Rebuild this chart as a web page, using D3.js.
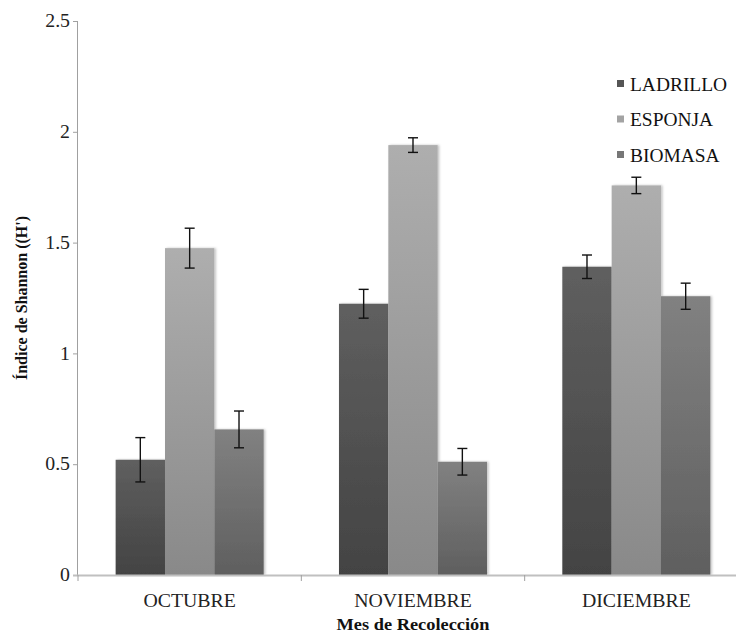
<!DOCTYPE html>
<html><head><meta charset="utf-8">
<script src="https://cdn.jsdelivr.net/npm/d3@7"></script>
<style>body{margin:0;background:#fff;overflow:hidden}svg{display:block}
text{font-family:"Liberation Serif","Times New Roman",Tinos,serif}</style>
</head><body>
<script>
const categories = ["OCTUBRE", "NOVIEMBRE", "DICIEMBRE"];
const seriesNames = ["LADRILLO", "ESPONJA", "BIOMASA"];
const ladrillo = [0.52, 1.224, 1.391];
const esponja = [1.475, 1.940, 1.758];
const biomasa = [0.657, 0.511, 1.258];
const ladrilloErr = [0.10, 0.065, 0.053];
const esponjaErr = [0.09, 0.033, 0.037];
const biomasaErr = [0.083, 0.06, 0.059];
const yTicks = [0, 0.5, 1, 1.5, 2, 2.5];
const yTickLabels = ["0", "0.5", "1", "1.5", "2", "2.5"];
const seriesValues = [ladrillo, esponja, biomasa];
const seriesErrors = [ladrilloErr, esponjaErr, biomasaErr];
const gradTop = ["#5f5f5f", "#aeaeae", "#818181"];
const gradBot = ["#434343", "#898989", "#5f5f5f"];
const legendColors = ["#555555", "#a3a3a3", "#777777"];

const W = 736, H = 633;
const svg = d3.select("body").append("svg").attr("width", W).attr("height", H);
const defs = svg.append("defs");
seriesNames.forEach((s, i) => {
  const g = defs.append("linearGradient").attr("id", "g" + i).attr("x1", 0).attr("y1", 0).attr("x2", 0).attr("y2", 1);
  g.append("stop").attr("offset", "0%").attr("stop-color", gradTop[i]);
  g.append("stop").attr("offset", "100%").attr("stop-color", gradBot[i]);
});
const f = defs.append("filter").attr("id", "sh").attr("x", "-10%").attr("y", "-10%").attr("width", "130%").attr("height", "120%");
f.append("feDropShadow").attr("dx", 1.5).attr("dy", 0).attr("stdDeviation", 1.2).attr("flood-color", "#000").attr("flood-opacity", 0.25);

const x0 = 78, x1 = 748, yBase = 575, yTop = 21;
const x = d3.scaleBand().domain(categories).range([x0, x1]).paddingInner(0).paddingOuter(0);
const xs = d3.scaleBand().domain(seriesNames).range([0, x.bandwidth()]).paddingOuter(0.763).paddingInner(0);
const y = d3.scaleLinear().domain([0, 2.5]).range([yBase, yTop]);

const font = "'Liberation Serif','Times New Roman',Tinos,serif";
const SX = 1.1;

// bars
const data = [];
categories.forEach((c, ci) => seriesNames.forEach((s, si) => data.push({c, s, si, v: seriesValues[si][ci], e: seriesErrors[si][ci]})));
svg.append("g").selectAll("rect").data(data).enter().append("rect")
  .attr("x", d => x(d.c) + xs(d.s))
  .attr("y", d => y(d.v))
  .attr("width", xs.bandwidth())
  .attr("height", d => yBase - y(d.v))
  .attr("fill", d => `url(#g${d.si})`)
  .attr("filter", "url(#sh)");

// error bars
const eg = svg.append("g").attr("stroke", "#111").attr("stroke-width", 1.4);
data.forEach(d => {
  const cx = x(d.c) + xs(d.s) + xs.bandwidth() / 2;
  eg.append("line").attr("x1", cx).attr("x2", cx).attr("y1", y(d.v + d.e)).attr("y2", y(d.v - d.e));
  eg.append("line").attr("x1", cx - 5).attr("x2", cx + 5).attr("y1", y(d.v + d.e)).attr("y2", y(d.v + d.e));
  eg.append("line").attr("x1", cx - 5).attr("x2", cx + 5).attr("y1", y(d.v - d.e)).attr("y2", y(d.v - d.e));
});

// y axis
const yAxis = d3.axisLeft(y).tickValues(yTicks).tickFormat((d, i) => yTickLabels[i]).tickSize(5).tickPadding(3);
const gy = svg.append("g").attr("transform", `translate(${x0},0)`).call(yAxis).attr("font-family", null);
gy.select(".domain").attr("stroke", "#a0a0a0").attr("d", `M-0.5,${yTop}V${yBase}`);
gy.selectAll(".tick line").attr("stroke", "#a0a0a0");
gy.selectAll(".tick text").style("font-family", font).attr("font-size", 18).attr("fill", "#222")
  .attr("transform", `scale(${SX},1)`).attr("x", -8 / SX);

// x axis
const gx = svg.append("g").attr("transform", `translate(0,${yBase})`);
gx.append("line").attr("x1", x0 - 5).attr("x2", x1).attr("y1", 0.5).attr("y2", 0.5).attr("stroke", "#c0c0c0").attr("stroke-width", 2);
[x0, ...categories.slice(1).map(c => x(c))].forEach(px => {
  gx.append("line").attr("x1", px).attr("x2", px).attr("y1", 0).attr("y2", 6).attr("stroke", "#a0a0a0");
});
const xAxis = d3.axisBottom(x).tickSize(0).tickPadding(19);
const gxa = svg.append("g").attr("transform", `translate(0,${yBase})`).call(xAxis).attr("font-family", null);
gxa.select(".domain").remove();
gxa.selectAll(".tick text").style("font-family", font).attr("font-size", 18).attr("fill", "#222")
  .attr("transform", `scale(${SX},1)`);

// axis titles
svg.append("text").attr("transform", `translate(${x(categories[1]) + x.bandwidth() / 2},630) scale(1.08,1)`).attr("text-anchor", "middle")
  .style("font-family", font).attr("font-size", 17).attr("font-weight", "bold").attr("fill", "#111").text("Mes de Recolección");
svg.append("text").attr("transform", `translate(27,${(yTop + yBase) / 2}) rotate(-90)`).attr("text-anchor", "middle")
  .style("font-family", font).attr("font-size", 16).attr("font-weight", "bold").attr("fill", "#111").text("Índice de Shannon  ((H')");

// legend
const lg = svg.append("g");
seriesNames.forEach((s, i) => {
  const ly = 84 + i * 35.5;
  lg.append("rect").attr("x", 617).attr("y", ly - 4).attr("width", 7).attr("height", 7).attr("fill", legendColors[i]);
  lg.append("text").attr("transform", `translate(630,${ly + 6.5}) scale(1.08,1)`).style("font-family", font).attr("font-size", 18).attr("fill", "#111").text(s);
});
</script>
</body></html>
